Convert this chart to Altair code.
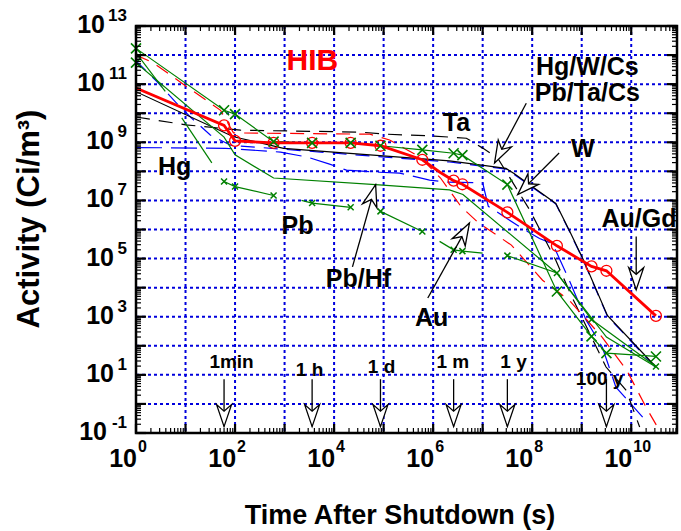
import altair as alt
import pandas as pd

FONT = "Liberation Sans"
W, H = 541, 407
X_DOMAIN = [1, 8.4e10]
Y_DOMAIN = [0.1, 1e13]

# ---------------- values ----------------
# HIB: thick red line, open circles
hib_t = [1, 60, 100, 600, 3600, 21600, 86400, 604800, 1.35e6, 2.592e6, 3.9e6, 3.156e7, 3.156e8, 1.578e9, 3.156e9, 3.156e10]
hib_a = [7.4e10, 3.8e9, 1.12e9, 9.5e8, 9.5e8, 9.5e8, 7.6e8, 2.5e8, 9.5e7, 4.8e7, 3.6e7, 3.9e6, 2.75e5, 5.4e4, 3.8e4, 1.07e3]
hib_circle = [0, 1, 1, 1, 1, 1, 1, 1, 0, 1, 1, 1, 1, 1, 1, 1]

# red dashed
rd_t = [1, 2.24, 11.5, 51, 93, 52500, 1.32e5, 5.4e5, 1.41e6, 3.7e6, 7.9e6, 3.8e7, 1.62e8, 5.6e8, 2.6e9, 8.1e9, 2.0e10, 3.2e10]
rd_a = [1.0e12, 5.4e11, 7.4e10, 1.26e10, 2.1e9, 1.9e9, 1.2e9, 3.1e8, 5.9e7, 6.0e6, 1.8e6, 2.9e5, 1.8e4, 3.7e3, 195, 14.5, 0.76, 0.19]

# black solid
bs_t = [1, 93, 955, 2.14e6, 2.95e7, 4.3e7, 3.0e8, 5.6e8, 1.05e9, 3.3e9, 3.16e10]
bs_a = [5.5e10, 1.55e9, 6.2e8, 2.3e8, 1.26e8, 8.5e7, 7.9e6, 9.5e5, 1.0e5, 1.1e3, 18.6]

# black dashed
bd_t = [1, 10, 129, 33900, 1.1e5, 8.9e5, 4.7e6, 1.0e7, 2.0e7, 8.9e7, 3.0e8, 6.5e8, 3.1e9, 7.9e9, 1.48e10]
bd_a = [7.4e9, 4.0e9, 2.6e9, 2.24e9, 1.9e9, 1.66e9, 1.38e9, 6.3e8, 2.9e8, 4.7e6, 8.7e4, 4.4e3, 18.6, 2.95, 0.16]

# blue dashed (upper start)
ba_t = [1, 2.8, 6.3, 13.2, 31.6, 81, 955, 2.14e6, 2.95e7, 4.3e7, 3.0e8, 5.6e8, 1.05e9, 3.3e9, 3.16e10]
ba_a = [6.3e11, 1.1e11, 2.4e10, 6.8e9, 1.78e9, 7.9e8, 5.75e8, 2.1e8, 1.2e8, 7.9e7, 7.6e6, 8.9e5, 9.5e4, 1.05e3, 17.4]

# blue long-dashed (lower start)
bb_t = [1, 65, 830, 2900, 8100, 17800, 83000, 2.1e5, 8.5e5, 1.86e6, 1.0e7, 1.3e7, 5.6e7, 1.41e8, 2.6e8, 5.6e8, 1.23e9, 2.6e9, 4.9e9, 1.7e10]
bb_a = [6.6e8, 6.2e8, 4.6e8, 3.1e8, 1.78e8, 1.1e8, 9.3e7, 8.7e7, 5.0e7, 4.3e7, 4.0e7, 6.3e6, 1.23e6, 4.9e5, 3.2e5, 1.8e4, 760, 91, 3.8, 0.35]

# green, large x markers
ga_t = [1, 60, 100, 600, 3600, 21600, 86400, 604800, 2.592e6, 3.9e6, 3.156e7, 3.156e8, 1.578e9, 3.156e9, 3.156e10]
ga_a = [1.7e12, 1.26e10, 9.3e9, 1.05e9, 9.5e8, 9.5e8, 7.6e8, 5.5e8, 4.2e8, 3.6e8, 3.5e7, 7.4e3, 210, 56, 43]

# green, steep early line (two pieces)
g2_seg = [0, 0, 1, 1]
g2_t = [1, 3.9, 8.4, 34]
g2_a = [1.2e12, 5.6e10, 6.9e9, 1.95e8]

# green (Pb/Hf)
g3_t = [1, 60, 100, 600, 69000, 2.14e6, 4.0e6, 3.1e8, 3.16e9, 3.16e10]
g3_a = [5.5e11, 1.5e9, 3.7e8, 5.9e7, 3.5e7, 2.3e7, 1.6e7, 3.2e4, 200, 18.6]
g3_mark_t = [1]
g3_mark_a = [5.5e11]

# green, small x markers (Pb), in pieces
g4_seg = [0, 0, 0, 1, 1, 1, 2, 2, 3, 3, 3, 3, 4, 4, 4, 4]
g4_t = [60, 100, 600, 2200, 3600, 21600, 86400, 604800, 1.35e6, 2.592e6, 3.9e6, 1.0e7, 3.156e7, 3.156e8, 1.578e9, 3.156e10]
g4_a = [4.5e7, 3.0e7, 1.48e7, 1.0e7, 8.1e6, 5.8e6, 4.2e6, 8.5e5, 3.9e5, 2.0e5, 1.8e5, 1.55e5, 1.26e5, 3.2e4, 800, 19.5]
g4_mark = [1, 1, 1, 0, 1, 1, 1, 1, 0, 1, 1, 0, 1, 1, 1, 1]

# material labels
lab_text = ["Hg", "Pb", "Pb/Hf", "Au", "Ta", "Hg/W/Cs", "Pb/Ta/Cs", "W"]
lab_t = [6.0, 1820, 3.1e4, 9.3e5, 2.95e6, 1.3e9, 1.3e9, 1.05e9]
lab_a = [1.45e8, 1.35e6, 2.0e4, 930, 4.7e9, 4.0e11, 5.0e10, 6.0e8]
augd_t, augd_a = [2.5e9], [2.3e6]
hib_label_t, hib_label_a = [3650], [6.5e11]

# time markers
time_text = ["1min", "1 h", "1 d", "1 m", "1 y", "100 y"]
time_lab_t = [85, 3200, 9.1e4, 2.5e6, 4.2e7, 2.3e9]
time_lab_a = [28, 15, 19, 28, 28, 7.4]
time_val = [60, 3600, 86400, 2.592e6, 3.156e7, 3.156e9]
time_tail_a = 7.1
time_tip_a = 0.166

# label arrows: tail -> tip
arr_t0 = [23500, 7.8e5, 7.6e7, 3.5e8, 1.26e10]
arr_a0 = [5.2e4, 4.4e3, 2.2e10, 4.3e8, 5.8e5]
arr_t1 = [69000, 5.4e6, 1.74e7, 5.1e7, 1.26e10]
arr_a1 = [3.5e7, 1.66e6, 1.95e8, 1.58e7, 8.5e3]
arr_ang = [195.7, 209.1, 27.8, 45, 0]

# axis labels
x_lab_vals = [1, 1e2, 1e4, 1e6, 1e8, 1e10]
x_lab_exp = ["0", "2", "4", "6", "8", "10"]
y_lab_vals = [1e13, 1e11, 1e9, 1e7, 1e5, 1e3, 10, 0.1]
y_lab_exp = ["13", "11", "9", "7", "5", "3", "1", "-1"]
x_decades = [10.0 ** d for d in range(0, 11)]
y_decades = [10.0 ** d for d in range(-1, 14)]

# ---------------- chart ----------------
xs = alt.Scale(type="log", domain=X_DOMAIN, nice=False)
ys = alt.Scale(type="log", domain=Y_DOMAIN, nice=False)


def X(f):
    return alt.X(f, type="quantitative", scale=xs, axis=None)


def Y(f):
    return alt.Y(f, type="quantitative", scale=ys, axis=None)


RED, GREEN, BLUE, GRID = "#ff0000", "#008000", "#0000ff", "#0000dd"
XSHAPE = "M-1,-1L1,1M-1,1L1,-1"
ARROW = "M0,0L-0.34,-1L0,-0.7L0.34,-1Z"


def df(t, a, seg=None):
    return pd.DataFrame({"t": t, "a": a, "seg": seg if seg is not None else [0] * len(t)})


def line(d, color, width=1.2, dash=None):
    kw = dict(color=color, strokeWidth=width, clip=True)
    if dash:
        kw["strokeDash"] = dash
    return alt.Chart(d).mark_line(**kw).encode(x=X("t"), y=Y("a"), detail="seg:N", order="t:Q")


def xmarks(d, size):
    return alt.Chart(d).mark_point(shape=XSHAPE, size=size, filled=False, color=GREEN,
                                   strokeWidth=1.6, opacity=1).encode(x=X("t"), y=Y("a"))


layers = []

# grid
layers.append(alt.Chart(pd.DataFrame({"v": x_decades})).mark_rule(
    color=GRID, strokeWidth=2, strokeDash=[3, 3]).encode(x=X("v"), y=alt.value(0), y2=alt.value(H)))
layers.append(alt.Chart(pd.DataFrame({"v": y_decades})).mark_rule(
    color=GRID, strokeWidth=2, strokeDash=[3, 3]).encode(y=Y("v"), x=alt.value(0), x2=alt.value(W)))

# curves
layers.append(line(df(bb_t, bb_a), BLUE, 1.2, [26, 9]))
layers.append(line(df(ba_t, ba_a), BLUE, 1.2, [14, 9]))
layers.append(line(df(bd_t, bd_a), "black", 1.2, [14, 9]))
layers.append(line(df(bs_t, bs_a), "black", 1.2))
layers.append(line(df(rd_t, rd_a), RED, 1.2, [14, 9]))
layers.append(line(df(g2_t, g2_a, g2_seg), GREEN))
layers.append(line(df(g3_t, g3_a), GREEN))
layers.append(line(df(g4_t, g4_a, g4_seg), GREEN))
layers.append(line(df(ga_t, ga_a), GREEN))
layers.append(line(df(hib_t, hib_a), RED, 2.8))

hib_df = pd.DataFrame({"t": hib_t, "a": hib_a, "c": hib_circle})
layers.append(alt.Chart(hib_df).transform_filter(alt.datum.c == 1).mark_point(
    shape="circle", size=120, filled=False, color=RED, strokeWidth=1.3, opacity=1
).encode(x=X("t"), y=Y("a")))

layers.append(xmarks(df(ga_t, ga_a), 100))
layers.append(xmarks(df(g3_mark_t, g3_mark_a), 100))
g4_df = pd.DataFrame({"t": g4_t, "a": g4_a, "m": g4_mark})
layers.append(alt.Chart(g4_df).transform_filter(alt.datum.m == 1).mark_point(
    shape=XSHAPE, size=36, filled=False, color=GREEN, strokeWidth=1.5, opacity=1
).encode(x=X("t"), y=Y("a")))

# arrows
arr_df = pd.DataFrame({"t0": arr_t0, "a0": arr_a0, "t1": arr_t1, "a1": arr_a1, "ang": arr_ang})
tm_df = pd.DataFrame({"t0": time_val, "a0": [time_tail_a] * len(time_val), "t1": time_val,
                      "a1": [time_tip_a] * len(time_val), "ang": [0] * len(time_val)})
for d in (arr_df, tm_df):
    layers.append(alt.Chart(d).mark_rule(color="black", strokeWidth=1.3).encode(
        x=X("t0"), y=Y("a0"), x2=alt.X2("t1"), y2=alt.Y2("a1")))
    layers.append(alt.Chart(d).mark_point(
        shape=ARROW, size=1936, filled=True, fill="white", stroke="black", strokeWidth=1.3,
        opacity=1, fillOpacity=1).encode(x=X("t1"), y=Y("a1"), angle=alt.Angle("ang:Q", scale=None)))

# annotation texts
txt = dict(font=FONT, fontWeight="bold")
layers.append(alt.Chart(pd.DataFrame({"s": lab_text, "t": lab_t, "a": lab_a})).mark_text(
    fontSize=25, align="center", baseline="middle", **txt).encode(x=X("t"), y=Y("a"), text="s:N"))
layers.append(alt.Chart(pd.DataFrame({"s": ["Au/Gd"], "t": augd_t, "a": augd_a})).mark_text(
    fontSize=25, align="left", baseline="middle", **txt).encode(x=X("t"), y=Y("a"), text="s:N"))
layers.append(alt.Chart(pd.DataFrame({"s": ["HIB"], "t": hib_label_t, "a": hib_label_a})).mark_text(
    fontSize=30, align="center", baseline="middle", color=RED, **txt).encode(x=X("t"), y=Y("a"), text="s:N"))
layers.append(alt.Chart(pd.DataFrame({"s": time_text, "t": time_lab_t, "a": time_lab_a})).mark_text(
    fontSize=19, align="center", baseline="middle", **txt).encode(x=X("t"), y=Y("a"), text="s:N"))

# inward ticks on all four sides
x_minor = [m * 10.0 ** d for d in range(0, 11) for m in range(2, 10) if m * 10.0 ** d <= X_DOMAIN[1]]
y_minor = [m * 10.0 ** d for d in range(-1, 13) for m in range(2, 10)]
for vals, L, sw in ((x_decades, 9, 2.2), (x_minor, 5, 1.2)):
    d = pd.DataFrame({"v": vals})
    layers.append(alt.Chart(d).mark_rule(color="black", strokeWidth=sw).encode(
        x=X("v"), y=alt.value(H), y2=alt.value(H - L)))
    layers.append(alt.Chart(d).mark_rule(color="black", strokeWidth=sw).encode(
        x=X("v"), y=alt.value(0), y2=alt.value(L)))
for vals, L, sw in ((y_decades, 10, 2.2), (y_minor, 5, 1.2)):
    d = pd.DataFrame({"v": vals})
    layers.append(alt.Chart(d).mark_rule(color="black", strokeWidth=sw).encode(
        y=Y("v"), x=alt.value(0), x2=alt.value(L)))
    layers.append(alt.Chart(d).mark_rule(color="black", strokeWidth=sw).encode(
        y=Y("v"), x=alt.value(W), x2=alt.value(W - L)))

# frame
one = pd.DataFrame({"k": [0]})
layers.append(alt.Chart(one).mark_rect(fillOpacity=0, stroke="black", strokeWidth=2.5).encode(
    x=alt.value(0), x2=alt.value(W), y=alt.value(0), y2=alt.value(H)))

# tick labels (10 with superscript exponent)
xl = pd.DataFrame({"v": x_lab_vals, "b": ["10"] * len(x_lab_vals), "e": x_lab_exp})
layers.append(alt.Chart(xl).mark_text(fontSize=25, align="right", baseline="alphabetic", dx=1, **txt).encode(
    x=X("v"), y=alt.value(441), text="b:N"))
layers.append(alt.Chart(xl).mark_text(fontSize=16, align="left", baseline="alphabetic", dx=2, **txt).encode(
    x=X("v"), y=alt.value(426), text="e:N"))

yl = pd.DataFrame({"v": y_lab_vals, "b": ["10"] * len(y_lab_vals), "e": y_lab_exp,
                   "k": ["neg" if e.startswith("-") else ("two" if len(e) == 2 else "one") for e in y_lab_exp]})
for kind, xb in (("two", -31), ("one", -22), ("neg", -29)):
    layers.append(alt.Chart(yl).transform_filter(alt.datum.k == kind).mark_text(
        fontSize=25, align="right", baseline="middle", dy=-1, **txt).encode(
        x=alt.value(xb), y=Y("v"), text="b:N"))
layers.append(alt.Chart(yl).mark_text(fontSize=17, align="right", baseline="middle", dy=-10, **txt).encode(
    x=alt.value(-9), y=Y("v"), text="e:N"))

# axis titles
layers.append(alt.Chart(pd.DataFrame({"s": ["Activity (Ci/m\u00b3)"]})).mark_text(
    fontSize=31, angle=270, align="center", baseline="middle", **txt).encode(
    x=alt.value(-106), y=alt.value(193), text="s:N"))
layers.append(alt.Chart(pd.DataFrame({"s": ["Time After Shutdown (s)"]})).mark_text(
    fontSize=27, align="center", baseline="alphabetic", **txt).encode(
    x=alt.value(264), y=alt.value(498), text="s:N"))

chart = alt.layer(*layers).properties(
    width=W, height=H,
    padding={"left": 136, "top": 26, "right": 4, "bottom": 98},
    autosize=alt.AutoSizeParams(type="none"),
).configure_view(strokeWidth=0)

chart.save("out.html", embed_options={"renderer": "svg", "actions": False})
